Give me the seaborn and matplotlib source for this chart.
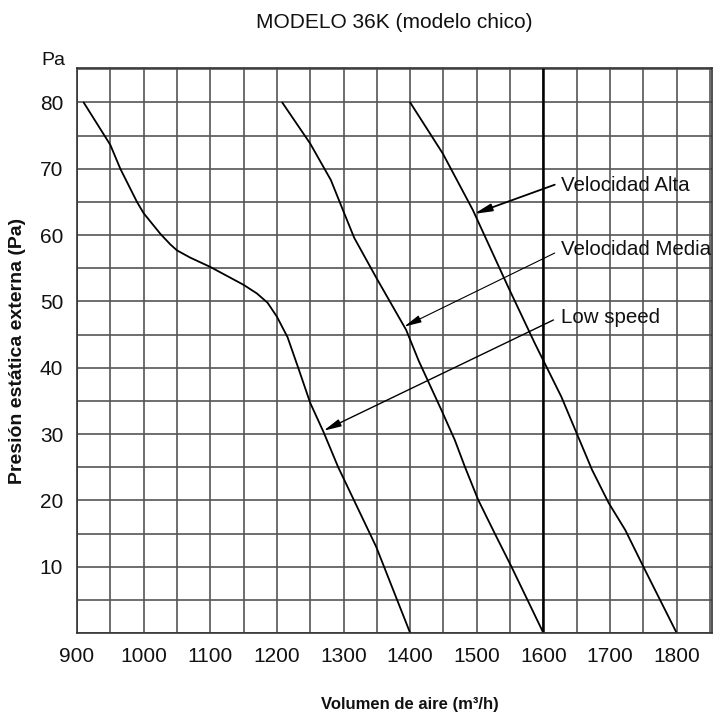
import numpy as np
import pandas as pd
import matplotlib
matplotlib.use("Agg")
import matplotlib.pyplot as plt
import seaborn as sns

# curvas (m3/h, Pa)
caudal_baja = [910, 950, 965, 990, 1000, 1025, 1040, 1050, 1070, 1100, 1150, 1170, 1186, 1200, 1216, 1233, 1250, 1270, 1292, 1349, 1400]
presion_baja = [80, 73.6, 70, 65, 63.3, 60.2, 58.6, 57.7, 56.6, 55.2, 52.5, 51.2, 49.8, 47.7, 44.6, 39.7, 34.7, 30.3, 25, 13, 0]

caudal_media = [1208, 1250, 1281, 1299, 1316, 1349, 1394, 1413, 1447, 1467, 1482, 1502, 1527, 1552, 1600]
presion_media = [80, 73.8, 68.3, 63.8, 59.6, 53.6, 45.7, 41, 33.6, 29.1, 25.1, 20.1, 15, 10, 0]

caudal_alta = [1400, 1449, 1467, 1494, 1547, 1587, 1627, 1650, 1673, 1698, 1723, 1750, 1775, 1800]
presion_alta = [80, 72.3, 68.9, 63.8, 52.2, 43.7, 35.6, 30.1, 24.6, 19.6, 15.5, 10, 5, 0]

etiquetas = ["Velocidad Alta", "Velocidad Media", "Low speed"]
# punta de la flecha sobre cada curva, inicio de la flecha, posicion del texto
puntas = [(1496, 63.2), (1391, 46.2), (1270, 30.5)]
inicios = [(1617, 67.6), (1617, 57.3), (1615, 47.2)]
textos = [(1627, 67.5), (1627, 57.9), (1627, 47.5)]

xticks = list(range(900, 1801, 100))
yticks = list(range(10, 81, 10))

df = pd.concat([
    pd.DataFrame({"caudal": caudal_alta, "presion": presion_alta, "vel": "Velocidad Alta"}),
    pd.DataFrame({"caudal": caudal_media, "presion": presion_media, "vel": "Velocidad Media"}),
    pd.DataFrame({"caudal": caudal_baja, "presion": presion_baja, "vel": "Low speed"}),
])

sns.set_style("white")
plt.rcParams['font.family'] = ['Liberation Sans', 'DejaVu Sans']
plt.rcParams['text.color'] = '#111111'
plt.rcParams['axes.labelcolor'] = '#111111'
plt.rcParams['xtick.color'] = '#111111'
plt.rcParams['ytick.color'] = '#111111'

fig = plt.figure(figsize=(7.28, 7.15), dpi=100)
ax = fig.add_axes([0.1058, 0.1147, 0.8722, 0.7902])

sns.lineplot(data=df, x="caudal", y="presion", hue="vel", sort=False,
             palette=["black", "black", "black"], linewidth=1.3, legend=False, ax=ax)

ax.set_xlim(900, 1853)
ax.set_ylim(0, 85.2)
ax.set_xticks(xticks)
ax.set_xticks(np.arange(900, 1851, 50), minor=True)
ax.set_yticks(yticks)
ax.set_yticks(np.arange(0, 86, 5), minor=True)
ax.grid(which="both", color="#555555", linewidth=1.2)
ax.set_axisbelow(True)
ax.axvline(1600, color="black", linewidth=1.8, zorder=1)
ax.tick_params(which="both", length=0, labelsize=15)
ax.tick_params(axis="x", pad=10)
ax.tick_params(axis="y", pad=10)
for sp in ax.spines.values():
    sp.set_color("#333333")
    sp.set_linewidth(1.2)

ax.set_xlabel("Volumen de aire (m³/h)", fontsize=12, fontweight="bold")
ax.xaxis.set_label_coords(0.524, -0.113)
ax.set_ylabel("Presión estática externa (Pa)", fontsize=14, fontweight="bold")
ax.yaxis.set_label_coords(-0.08, 0.5)

ax.text(-0.038, 1.014, "Pa", transform=ax.transAxes, ha="center", va="center",
        fontsize=14)

fig.text(0.542, 0.969, "MODELO 36K (modelo chico)", ha="center", va="center", fontsize=15)

anchos = [1.3, 0.8, 1.0]
for lab, punta, ini, txt, lw in zip(etiquetas, puntas, inicios, textos, anchos):
    ax.annotate("", xy=punta, xytext=ini,
                arrowprops=dict(arrowstyle="-|>,head_length=0.7,head_width=0.15",
                                color="black", lw=lw, mutation_scale=15,
                                shrinkA=0, shrinkB=0))
    ax.text(txt[0], txt[1], lab, ha="left", va="center", fontsize=14.8)

plt.savefig("out.png", dpi=100)
